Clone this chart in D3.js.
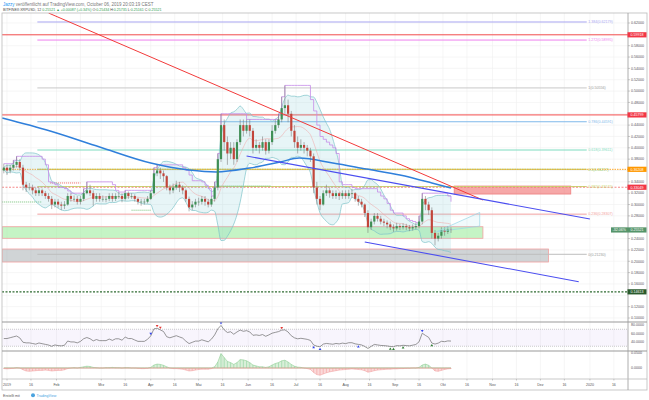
<!DOCTYPE html>
<html><head><meta charset="utf-8">
<script src="https://cdn.jsdelivr.net/npm/d3@7"></script>
<style>body{margin:0;background:#fff;}svg{display:block;}text{font-family:"Liberation Sans",Arial,sans-serif;}</style>
</head><body><svg id="c" width="649" height="400"></svg>
<script>
// ---------- DATA ----------
const startDate = "2018-12-30";
const candleStepDays = 2;
const firstOpen = 0.36;
const closes = [.365,.36,.365,.37,.375,.365,.335,.33,.33,.325,
 .32,.325,.32,.315,.31,.30,.305,.30,.298,.30,
 .315,.31,.31,.305,.31,.32,.325,.32,.31,.315,
 .31,.31,.31,.315,.31,.315,.315,.31,.32,.315,
 .315,.31,.305,.305,.305,.31,.32,.355,.36,.355,
 .35,.33,.325,.33,.335,.33,.325,.31,.295,.30,
 .305,.305,.31,.305,.30,.31,.33,.38,.44,.41,
 .39,.40,.38,.41,.44,.43,.44,.43,.40,.405,
 .40,.41,.395,.41,.43,.44,.45,.47,.475,.46,
 .43,.41,.40,.405,.40,.395,.385,.33,.31,.30,
 .32,.325,.32,.315,.32,.315,.32,.315,.32,.32,
 .31,.305,.30,.285,.26,.27,.28,.275,.27,.268,
 .265,.26,.258,.262,.26,.262,.26,.258,.26,.262,
 .27,.31,.30,.29,.25,.24,.245,.255,.252,.256,
 .255];
const highs = [.372,.37,.37,.378,.385,.38,.37,.34,.338,.335,
 .33,.33,.328,.324,.32,.315,.31,.31,.305,.306,
 .32,.32,.316,.315,.315,.328,.34,.335,.325,.32,
 .32,.316,.315,.32,.32,.32,.322,.32,.325,.323,
 .32,.318,.312,.31,.31,.315,.325,.365,.37,.365,
 .36,.352,.335,.337,.342,.34,.334,.328,.314,.306,
 .31,.312,.315,.315,.31,.315,.34,.39,.46,.45,
 .42,.41,.41,.415,.45,.45,.45,.45,.435,.415,
 .41,.42,.415,.415,.44,.45,.46,.49,.51,.485,
 .465,.44,.42,.415,.41,.405,.40,.39,.34,.315,
 .325,.335,.33,.325,.325,.322,.325,.325,.326,.328,
 .322,.315,.31,.302,.29,.275,.285,.285,.28,.275,
 .272,.27,.265,.268,.266,.267,.266,.264,.265,.268,
 .28,.32,.315,.305,.295,.255,.25,.26,.26,.262,
 .26];
const lows = [.355,.352,.355,.36,.365,.36,.325,.322,.325,.318,
 .315,.315,.315,.31,.305,.292,.295,.294,.29,.292,
 .298,.305,.305,.30,.30,.306,.318,.315,.298,.305,
 .305,.305,.304,.306,.305,.306,.31,.304,.307,.31,
 .31,.305,.30,.298,.30,.302,.308,.318,.35,.345,
 .34,.325,.318,.32,.326,.322,.318,.305,.288,.29,
 .295,.298,.30,.298,.295,.296,.305,.325,.375,.395,
 .37,.38,.37,.375,.405,.42,.425,.42,.39,.395,
 .39,.395,.388,.39,.405,.425,.435,.445,.46,.445,
 .42,.40,.39,.395,.39,.385,.375,.32,.30,.29,
 .298,.315,.312,.31,.31,.308,.31,.31,.31,.312,
 .305,.298,.295,.278,.25,.255,.265,.27,.265,.262,
 .258,.255,.252,.254,.255,.256,.255,.253,.254,.256,
 .258,.265,.29,.282,.24,.228,.235,.24,.245,.248,
 .25];
const oscValues = [-0.002,-0.003,-0.002,-0.001,0.001,0.0,
 -0.006,-0.01,-0.011,-0.01,-0.009,-0.008,-0.008,-0.007,-0.008,
 -0.01,-0.009,-0.008,-0.008,-0.006,
 -0.002,0.0,0.001,0.0,0.002,0.004,0.006,0.005,0.002,0.001,0.0,
 0.0,0.001,0.001,0.002,0.001,0.001,0.0,0.001,0.001,0.0,0.0,-0.001,-0.002,-0.002,-0.001,
 0.002,0.01,0.013,0.012,0.009,
 0.004,0.0,-0.002,-0.002,-0.003,-0.004,-0.007,-0.01,
 -0.009,-0.007,-0.005,-0.004,-0.004,-0.004,-0.002,0.004,
 0.02,0.048,0.035,0.022,0.018,0.012,
 0.018,0.028,0.027,0.024,0.018,0.01,
 0.007,0.004,0.004,0.002,0.004,
 0.01,0.015,0.018,0.024,0.026,0.02,
 0.012,0.006,0.003,0.002,0.0,-0.002,-0.005,
 -0.015,-0.022,-0.024,-0.02,-0.016,-0.013,
 -0.011,-0.009,-0.007,-0.006,-0.005,-0.004,-0.003,-0.004,-0.005,-0.006,
 -0.009,-0.014,-0.012,-0.009,-0.007,-0.006,
 -0.005,-0.004,-0.004,-0.003,-0.003,-0.002,-0.002,-0.001,-0.001,0.0,0.0,0.002,
 0.01,0.013,0.009,0.0,
 -0.01,-0.011,-0.008,-0.005,-0.003,-0.002];
const ma200Dates = ["2018-12-29","2019-01-28","2019-02-28","2019-04-01","2019-04-25","2019-05-12","2019-06-02","2019-06-21","2019-07-03","2019-07-24","2019-08-14","2019-09-04","2019-09-24","2019-10-06"];
const ma200Values = [0.4525,0.4296,0.4014,0.3732,0.3609,0.3574,0.3644,0.375,0.382,0.3732,0.3626,0.352,0.338,0.329];
const fibRatios = ["1.384","1.272","1","0.786","0.618","0.5","0.382","0.236","0"];
const fibPrices = [0.62179,0.58995,0.50556,0.44591,0.39611,0.36217,0.33171,0.28307,0.21230];
const fibStart = "2019-01-20", fibEnd = "2019-12-30";
const levelPrices = [0.59918,0.45799,0.36208,0.33049,0.14613];
const lastClose = 0.25521, lastChange = "-32.06%";
const priceTicks = [0.10,0.12,0.14,0.16,0.18,0.20,0.22,0.24,0.26,0.28,0.30,0.32,0.34,0.36,0.38,0.40,0.42,0.44,0.46,0.48,0.50,0.52,0.54,0.56,0.58,0.60,0.62];
const rsiTicks = [80,60,40];
const oscTicks = [0.05,0];
const timeTickDates = ["2019-01-01","2019-01-16","2019-02-01","2019-02-16","2019-03-01","2019-03-16","2019-04-01","2019-04-16","2019-05-01","2019-05-16","2019-06-01","2019-06-16","2019-07-01","2019-07-16","2019-08-01","2019-08-16","2019-09-01","2019-09-16","2019-10-01","2019-10-16","2019-11-01","2019-11-16","2019-12-01","2019-12-16","2020-01-01","2020-01-16"];
const timeTickLabels = ["2019","16","Feb","","Mrz","16","Apr","16","Mai","16","Jun","16","Jul","16","Aug","16","Sep","16","Okt","16","Nov","16","Dez","16","2020","16"];
const redTrend = [["2019-01-27",0.6376],["2019-10-26",0.308]];
const channelUpper = [["2019-05-31",0.3856],["2020-01-01",0.2745]];
const channelLower = [["2019-08-13",0.234],["2019-12-25",0.164]];
const wedge = [["2019-09-27",0.252],["2019-10-24",0.286],["2019-10-24",0.262]];
const greenZone = ["2018-12-29","2019-10-26",0.2609,0.2405];
const grayZone = ["2018-12-29","2019-12-06",0.2216,0.1987];
const redZone = ["2019-10-08","2019-12-20",0.3326,0.3185];
const greenSupports = [["2018-12-29","2019-01-23",0.3045],["2019-03-20","2019-04-01",0.290],["2019-05-14","2019-06-15",0.3327]];
const redResist = [["2019-01-28","2019-02-16",0.338]];
const rsiTopBlue=[46,68,131], rsiTopRed=[48,49,87], rsiBotBlue=[97,99,111], rsiBotGreen=[121,122,125,134];

// ---------- SETUP ----------
const P = d3.utcParse("%Y-%m-%d");
const svg = d3.select("#c");
const L=2, R=628, mTop=13, mBot=322, rBot=351, oBot=379, aBot=390;
const x = d3.scaleUtc().domain([Date.UTC(2019,0,1),Date.UTC(2019,9,1)]).range([7,443]);
const y = d3.scaleLinear().domain([0.10,0.62]).range([318,23]);
const yR = d3.scaleLinear().domain([40,80]).range([342,325]);
const yO = d3.scaleLinear().domain([0,0.05]).range([368,353]);
const dates = closes.map((_,i)=>d3.utcDay.offset(P(startDate), i*candleStepDays));
const opens = closes.map((c,i)=> i===0 ? firstOpen : closes[i-1]);

const defs = svg.append("defs");
defs.append("clipPath").attr("id","cm").append("rect").attr("x",L).attr("y",mTop).attr("width",R-L).attr("height",mBot-mTop);
defs.append("clipPath").attr("id","cr").append("rect").attr("x",L).attr("y",mBot).attr("width",R-L).attr("height",rBot-mBot);
defs.append("clipPath").attr("id","co").append("rect").attr("x",L).attr("y",rBot).attr("width",R-L).attr("height",oBot-rBot);

// grid
const grid = svg.append("g").attr("stroke","#f0f0f0").attr("stroke-width",0.6);
timeTickDates.forEach(d=>{ grid.append("line").attr("x1",x(P(d))).attr("x2",x(P(d))).attr("y1",mTop).attr("y2",oBot); });
priceTicks.forEach(p=>{ grid.append("line").attr("x1",L).attr("x2",R).attr("y1",y(p)).attr("y2",y(p)); });

const main = svg.append("g").attr("clip-path","url(#cm)");
function zone(z, fill, stroke){
  main.append("rect").attr("x",x(P(z[0]))).attr("y",y(z[2])).attr("width",x(P(z[1]))-x(P(z[0]))).attr("height",y(z[3])-y(z[2]))
   .attr("fill",fill).attr("stroke",stroke).attr("stroke-width",0.8);
}
zone(grayZone,"rgba(150,160,165,0.45)","#f2a0a0");
zone(greenZone,"rgba(150,235,150,0.55)","#f2a0a0");
zone(redZone,"rgba(240,110,110,0.6)","#f08080");

// fib lines
const fibColors = ["#a9a6f2","#ee82ee","#c8c8c8","#7fb8ea","#7fdcc0","#9ccc65","#c5d86d","#f2a0a0","#bdbdbd"];
fibPrices.forEach((p,i)=>{
  main.append("line").attr("x1",x(P(fibStart))).attr("x2",x(P(fibEnd))).attr("y1",y(p)).attr("y2",y(p))
   .attr("stroke",fibColors[i]).attr("stroke-width",1);
  svg.append("text").attr("x",x(P(fibEnd))+1.5).attr("y",y(p)+1.3).attr("font-size",3.6).attr("fill",fibColors[i]==="#c8c8c8"||fibColors[i]==="#bdbdbd"?"#999":fibColors[i])
   .text(fibRatios[i]+"("+p.toFixed(5)+")");
});
// full-width level lines
const levelColors = ["#f44e4e","#f44e4e","#ffa726","#f47a7a","#2e6b30"];
const levelDash = [null,null,"1.5,1","2,1.5","2,1.5"];
const levelWidth = [1,1,1,0.9,1.2];
levelPrices.forEach((p,i)=>{
  main.append("line").attr("x1",L).attr("x2",R).attr("y1",y(p)).attr("y2",y(p)).attr("stroke",levelColors[i])
   .attr("stroke-width",levelWidth[i]).attr("stroke-dasharray",levelDash[i]);
});
greenSupports.forEach(s=>main.append("line").attr("x1",x(P(s[0]))).attr("x2",x(P(s[1]))).attr("y1",y(s[2])).attr("y2",y(s[2])).attr("stroke","#66bb6a").attr("stroke-width",0.9).attr("stroke-dasharray","1,1"));
redResist.forEach(s=>main.append("line").attr("x1",x(P(s[0]))).attr("x2",x(P(s[1]))).attr("y1",y(s[2])).attr("y2",y(s[2])).attr("stroke","#ef5350").attr("stroke-width",0.9).attr("stroke-dasharray","1,1"));

// Bollinger bands
const bbN=10;
const bb = closes.map((c,i)=>{ const w = closes.slice(Math.max(0,i-bbN+1),i+1); const m=d3.mean(w); const s=d3.deviation(w)||0; return {d:dates[i],m,u:m+2*s,l:m-2*s}; });
main.append("path").datum(bb).attr("fill","rgba(120,200,210,0.18)")
 .attr("d",d3.area().x(d=>x(d.d)).y0(d=>y(d.l)).y1(d=>y(d.u)).curve(d3.curveMonotoneX));
["u","l"].forEach(k=>main.append("path").datum(bb).attr("fill","none").attr("stroke","#7cc3c9").attr("stroke-width",0.7)
 .attr("d",d3.line().x(d=>x(d.d)).y(d=>y(d[k])).curve(d3.curveMonotoneX)));
main.append("path").datum(bb).attr("fill","none").attr("stroke","#f0a0a0").attr("stroke-width",0.5)
 .attr("d",d3.line().x(d=>x(d.d)).y(d=>y(d.m)).curve(d3.curveMonotoneX));
// Donchian-like upper (purple)
const dc = highs.map((h,i)=>({d:dates[i],v:d3.max(highs.slice(Math.max(0,i-7),i+1))}));
main.append("path").datum(dc).attr("fill","none").attr("stroke","#c58ce8").attr("stroke-width",0.8)
 .attr("d",d3.line().x(d=>x(d.d)).y(d=>y(d.v)).curve(d3.curveStepAfter));
// MA200
const ma = ma200Dates.map((d,i)=>({d:P(d),v:ma200Values[i]}));
main.append("path").datum(ma).attr("fill","none").attr("stroke","#2f7fdb").attr("stroke-width",1.5)
 .attr("d",d3.line().x(d=>x(d.d)).y(d=>y(d.v)).curve(d3.curveMonotoneX));

// candles
const bw = (x(dates[1])-x(dates[0]))*0.68;
const cg = main.append("g");
closes.forEach((c,i)=>{
  const o=opens[i], up=c>=o, col= up?"#3f8f55":"#c2453a";
  const cx=x(dates[i]);
  cg.append("line").attr("x1",cx).attr("x2",cx).attr("y1",y(highs[i])).attr("y2",y(lows[i])).attr("stroke","#6a6a6a").attr("stroke-width",0.5);
  const t=y(Math.max(o,c)), b=y(Math.min(o,c));
  cg.append("rect").attr("x",cx-bw/2).attr("y",t).attr("width",bw).attr("height",Math.max(0.6,b-t)).attr("fill",col);
});

// trendlines
const tl = d3.line().x(d=>x(P(d[0]))).y(d=>y(d[1]));
main.append("path").datum(redTrend).attr("d",tl).attr("stroke","#f23a3a").attr("stroke-width",1).attr("fill","none");
main.append("path").datum(channelUpper).attr("d",tl).attr("stroke","#4b4ef0").attr("stroke-width",1.1).attr("fill","none");
main.append("path").datum(channelLower).attr("d",tl).attr("stroke","#4b4ef0").attr("stroke-width",1.1).attr("fill","none");
main.append("path").datum(wedge).attr("d",d=>tl(d)+"Z").attr("stroke","#9ad7e6").attr("stroke-width",0.7).attr("fill","rgba(160,220,235,0.15)");

// ---------- RSI pane ----------
function rsiCalc(v,n,seed){ const out=[]; let ag=seed,al=seed;
  for(let i=1;i<v.length;i++){ const d=v[i]-v[i-1], g=Math.max(d,0), l=Math.max(-d,0);
    ag=(ag*(n-1)+g)/n; al=(al*(n-1)+l)/n; out[i]= al===0?100:100-100/(1+ag/al); }
  out[0]=out[1]; return out; }
const rsi = rsiCalc(closes,14,0.005);
const rp = svg.append("g").attr("clip-path","url(#cr)");
rp.append("rect").attr("x",L).attr("width",R-L).attr("y",yR(70)).attr("height",yR(30)-yR(70)).attr("fill","rgba(150,110,220,0.07)");
[70,30].forEach(v=>rp.append("line").attr("x1",L).attr("x2",R).attr("y1",yR(v)).attr("y2",yR(v)).attr("stroke","#aaa").attr("stroke-width",0.6).attr("stroke-dasharray","1,1"));
rp.append("path").datum(rsi).attr("fill","none").attr("stroke","#6b6b6b").attr("stroke-width",0.7)
 .attr("d",d3.line().x((d,i)=>x(dates[i])).y(d=>yR(Math.max(22,Math.min(79,d)))));
function tri(i, col, down){
  const cx=x(dates[i]); const cy= yR(Math.max(22,Math.min(79,rsi[i]))) + (down?-1.8:1.8);
  const s=1.4;
  const pts = down ? [[cx-s,cy-s],[cx+s,cy-s],[cx,cy+s*0.6]] : [[cx-s,cy+s],[cx+s,cy+s],[cx,cy-s*0.6]];
  rp.append("polygon").attr("points",pts.map(p=>p.join(",")).join(" ")).attr("fill",col);
}
rsiTopBlue.forEach(i=>tri(i,"#3344ee",true));
rsiTopRed.forEach(i=>tri(i,"#e53935",true));
rsiBotBlue.forEach(i=>tri(i,"#3344ee",false));
rsiBotGreen.forEach(i=>tri(i,"#2e7d32",false));

// ---------- Oscillator pane ----------
const op = svg.append("g").attr("clip-path","url(#co)");
const oscD = oscValues.map((v,i)=>({d:dates[i],v}));
op.append("path").datum(oscD).attr("fill","rgba(120,200,120,0.28)").attr("stroke","#81c784").attr("stroke-width",0.5)
 .attr("d",d3.area().x(d=>x(d.d)).y0(yO(0)).y1(d=>yO(Math.max(0,d.v))));
op.append("path").datum(oscD).attr("fill","rgba(240,120,120,0.28)").attr("stroke","#ef9a9a").attr("stroke-width",0.5)
 .attr("d",d3.area().x(d=>x(d.d)).y0(yO(0)).y1(d=>yO(Math.min(0,d.v))));
oscD.forEach(d=>op.append("line").attr("x1",x(d.d)).attr("x2",x(d.d)).attr("y1",yO(0)).attr("y2",yO(d.v))
 .attr("stroke",d.v>=0?"#8fd19e":"#f4a0a0").attr("stroke-width",0.6));

// ---------- frames & axes ----------
const fr = svg.append("g").attr("fill","none");
fr.append("rect").attr("x",L).attr("y",mTop).attr("width",647-L).attr("height",aBot-mTop).attr("stroke","#bbb").attr("stroke-width",0.8);
fr.append("line").attr("x1",R).attr("x2",R).attr("y1",mTop).attr("y2",aBot).attr("stroke","#999").attr("stroke-width",0.8);
[mBot,rBot].forEach(v=>fr.append("line").attr("x1",L).attr("x2",647).attr("y1",v).attr("y2",v).attr("stroke","#999").attr("stroke-width",1));
fr.append("line").attr("x1",L).attr("x2",647).attr("y1",oBot).attr("y2",oBot).attr("stroke","#bbb").attr("stroke-width",0.8);

// price axis labels
const boxes = [
  {p:levelPrices[0],c:"#f23645",t:levelPrices[0].toFixed(5)},
  {p:levelPrices[1],c:"#f23645",t:levelPrices[1].toFixed(5)},
  {p:levelPrices[2],c:"#ff9800",t:levelPrices[2].toFixed(5)},
  {p:levelPrices[3],c:"#f23645",t:levelPrices[3].toFixed(5)},
  {p:levelPrices[4],c:"#2a5a2c",t:levelPrices[4].toFixed(5)}];
priceTicks.forEach(p=>{
  const yy=y(p);
  if (boxes.some(b=>Math.abs(y(b.p)-yy)<4.5) || Math.abs(y(lastClose)-yy)<4.5) return;
  svg.append("line").attr("x1",R).attr("x2",R+2).attr("y1",yy).attr("y2",yy).attr("stroke","#999").attr("stroke-width",0.5);
  svg.append("text").attr("x",631).attr("y",yy+1.3).attr("font-size",3.6).attr("fill","#555").text(p.toFixed(5));
});
boxes.forEach(b=>{
  svg.append("rect").attr("x",627.5).attr("y",y(b.p)-2.6).attr("width",19).attr("height",5.2).attr("fill",b.c);
  svg.append("text").attr("x",630.5).attr("y",y(b.p)+1.3).attr("font-size",3.6).attr("fill","#fff").text(b.t);
});
svg.append("rect").attr("x",611).attr("y",y(lastClose)-2.6).attr("width",35.5).attr("height",5.2).attr("fill","#55946a");
svg.append("text").attr("x",612.5).attr("y",y(lastClose)+1.3).attr("font-size",3.6).attr("fill","#fff").text(lastChange);
svg.append("text").attr("x",630.5).attr("y",y(lastClose)+1.3).attr("font-size",3.6).attr("fill","#fff").text(lastClose.toFixed(5));
rsiTicks.forEach(v=>svg.append("text").attr("x",631).attr("y",yR(v)+1.3).attr("font-size",3.6).attr("fill","#555").text(v.toFixed(4)));
oscTicks.forEach(v=>svg.append("text").attr("x",631).attr("y",yO(v)+1.3).attr("font-size",3.6).attr("fill","#555").text(v.toFixed(4)));

// time axis
timeTickDates.forEach((d,i)=>{
  if(!timeTickLabels[i]) return;
  const xx=x(P(d));
  svg.append("line").attr("x1",xx).attr("x2",xx).attr("y1",oBot).attr("y2",oBot+1.5).attr("stroke","#999").attr("stroke-width",0.5);
  svg.append("text").attr("x",xx).attr("y",385.5).attr("font-size",3.6).attr("text-anchor","middle").attr("fill","#555").text(timeTickLabels[i]);
});

// header
const mono = "DejaVu Sans Mono, monospace";
const h1 = svg.append("text").attr("x",3).attr("y",5.5).attr("font-size",4.5).attr("font-family",mono).attr("fill","#777");
h1.append("tspan").attr("fill","#2196f3").text("Jazzy");
h1.append("tspan").text(" veröffentlicht auf TradingView.com, October 06, 2019 20:03:19 CEST");
const h2 = svg.append("text").attr("x",3).attr("y",11).attr("font-size",3.6).attr("font-family",mono).attr("fill","#444");
h2.append("tspan").text("BITFINEX:XRPUSD, 12 ");
h2.append("tspan").attr("fill","#2e9e4f").text("0.25521 ▲ +0.00087 (+0.34%) ");
h2.append("tspan").text("O:");h2.append("tspan").attr("fill","#2e9e4f").text("0.25434 ");
h2.append("tspan").text("H:");h2.append("tspan").attr("fill","#2e9e4f").text("0.25735 ");
h2.append("tspan").text("L:");h2.append("tspan").attr("fill","#2e9e4f").text("0.25161 ");
h2.append("tspan").text("C:");h2.append("tspan").attr("fill","#2e9e4f").text("0.25521");

// footer
svg.append("text").attr("x",3).attr("y",396.5).attr("font-size",3.6).attr("font-family",mono).attr("fill","#555").text("Erstellt mit");
svg.append("circle").attr("cx",33).attr("cy",395.2).attr("r",2).attr("fill","#4aa3df");
svg.append("text").attr("x",36.5).attr("y",396.5).attr("font-size",3.6).attr("font-family",mono).attr("fill","#4aa3df").text("TradingView");
</script></body></html>
